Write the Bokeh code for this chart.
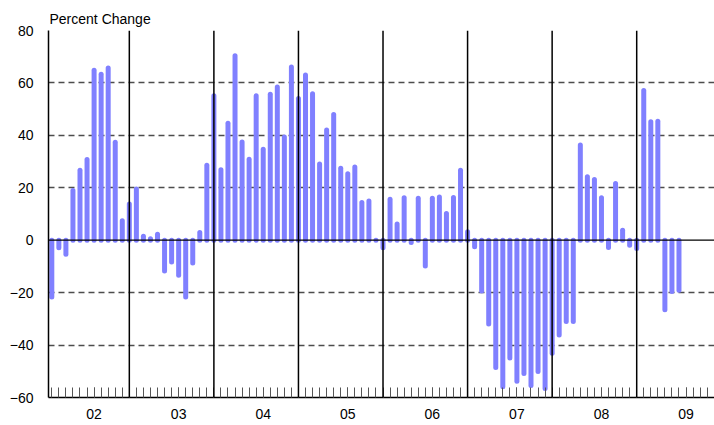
from bokeh.plotting import figure
from bokeh.models import FixedTicker, Span, Range1d
from bokeh.embed import file_html
from bokeh.resources import INLINE

# Monthly percent change, Feb 2002 .. Jul 2009
v2002 = [-21.7, -2.9, -5.4, 19.0, 26.7, 30.8, 64.8, 63.3, 65.7, 37.4, 7.4]          # Feb-Dec
v2003 = [13.8, 19.5, 1.5, 0.6, 2.3, -11.7, -8.3, -13.4, -21.7, -8.7, 2.9, 28.6]
v2004 = [55.1, 26.9, 44.6, 70.4, 37.5, 30.9, 55.1, 34.7, 55.7, 58.4, 39.4, 66.1]
v2005 = [54.1, 63.0, 55.9, 29.1, 42.0, 48.0, 27.5, 25.4, 27.9, 14.4, 15.0, 0.0]
v2006 = [-2.9, 15.6, 6.2, 16.2, -0.9, 16.0, -9.8, 16.0, 16.5, 10.2, 16.3, 26.7]
v2007 = [3.2, -2.5, -19.4, -32.0, -48.6, -55.9, -44.9, -53.8, -50.8, -55.4, -50.1, -56.6]
v2008 = [-43.1, -36.2, -31.0, -31.0, 36.3, 24.2, 23.2, 16.2, -2.8, 21.6, 3.8, -1.9]
v2009 = [-3.2, 57.1, 45.2, 45.4, -26.5, -19.6, -19.1]                                 # Jan-Jul

year_labels = ["02", "03", "04", "05", "06", "07", "08", "09"]
y_ticks = [-60, -40, -20, 0, 20, 40, 60, 80]
grid_ticks = [-40, -20, 20, 40, 60, 80]

values = v2002 + v2003 + v2004 + v2005 + v2006 + v2007 + v2008 + v2009
# month index: Jan 2002 = 0
months = [1 + i for i in range(len(values))]
year_starts = [12 * k for k in range(1, 8)]
label_pos = [12 * k + 7 for k in range(len(year_labels))]

FONT = "Liberation Sans"

p = figure(width=714, height=425, output_backend="svg", toolbar_location=None,
           x_range=Range1d(0.53, 95.04), y_range=Range1d(-60, 80),
           min_border_left=48, min_border_right=0, min_border_top=30, min_border_bottom=28)
p.outline_line_color = None
p.background_fill_color = "white"

p.title.text = "Percent Change"
p.title.align = "left"
p.title.offset = 1
p.title.standoff = 8
p.title.text_font = FONT
p.title.text_font_size = "14px"
p.title.text_font_style = "normal"
p.title.text_color = "black"

p.segment(x0=months, y0=[0] * len(values), x1=months, y1=values,
          line_color="#8080ff", line_width=5, line_cap="round")

# x axis
xa = p.xaxis[0]
xa.ticker = FixedTicker(ticks=label_pos, minor_ticks=list(range(1, 96)))
xa.major_label_overrides = {pos: lab for pos, lab in zip(label_pos, year_labels)}
xa.major_tick_in = 10
xa.major_tick_out = 0
xa.minor_tick_in = 10
xa.minor_tick_out = 0
xa.major_tick_line_color = "#555555"
xa.minor_tick_line_color = "#555555"
xa.axis_line_color = "black"
xa.axis_line_width = 1.5
xa.major_label_standoff = 11
xa.major_label_text_font = FONT
xa.major_label_text_font_size = "14px"
xa.major_label_text_color = "black"

# y axis
ya = p.yaxis[0]
ya.ticker = FixedTicker(ticks=y_ticks)
ya.major_tick_in = 0
ya.major_tick_out = 0
ya.minor_tick_line_color = None
ya.axis_line_color = "black"
ya.axis_line_width = 1.5
ya.major_label_standoff = 15
ya.major_label_text_font = FONT
ya.major_label_text_font_size = "14px"
ya.major_label_text_color = "black"

p.xgrid.grid_line_color = None
p.ygrid.ticker = FixedTicker(ticks=grid_ticks)
p.ygrid.grid_line_color = "#4d4d4d"
p.ygrid.grid_line_width = 1.3
p.ygrid.grid_line_dash = "6 4"

p.add_layout(Span(location=0, dimension="width", line_color="black", line_width=1.3))
for ys in year_starts:
    p.add_layout(Span(location=ys, dimension="height", line_color="black", line_width=1.5))

open("out.html", "w").write(file_html(p, INLINE))
